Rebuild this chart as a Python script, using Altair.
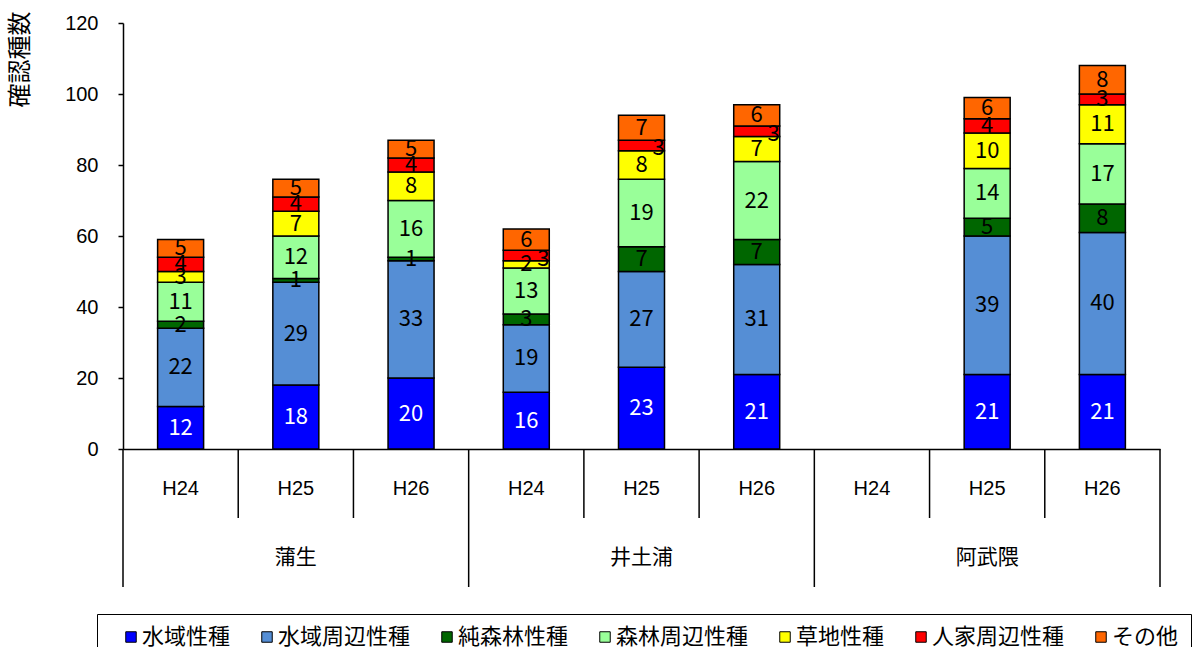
import altair as alt
import pandas as pd

# Survey sites and years (slots run 蒲生 H24..H26, 井土浦 H24..H26, 阿武隈 H24..H26)
sites = ["蒲生", "井土浦", "阿武隈"]
years = ["H24", "H25", "H26"]

categories = ["水域性種", "水域周辺性種", "純森林性種", "森林周辺性種", "草地性種", "人家周辺性種", "その他"]
colors = ["#0000FF", "#558ED5", "#006600", "#99FF99", "#FFFF00", "#FF0000", "#FF6600"]

# Species counts per category; 阿武隈 H24 has no record
suiiki = [12, 18, 20, 16, 23, 21, None, 21, 21]
suiiki_shuhen = [22, 29, 33, 19, 27, 31, None, 39, 40]
jun_shinrin = [2, 1, 1, 3, 7, 7, None, 5, 8]
shinrin_shuhen = [11, 12, 16, 13, 19, 22, None, 14, 17]
souchi = [3, 7, 8, 2, 8, 7, None, 10, 11]
jinka_shuhen = [4, 4, 4, 3, 3, 3, None, 4, 3]
sonota = [5, 5, 5, 6, 7, 6, None, 6, 8]

series = [suiiki, suiiki_shuhen, jun_shinrin, shinrin_shuhen, souchi, jinka_shuhen, sonota]

rows = []
for ci, (cat, vals) in enumerate(zip(categories, series)):
    for slot, v in enumerate(vals):
        if v is None:
            continue
        rows.append({"slot": slot, "center": slot + 0.5, "category": cat,
                     "order": ci, "value": v})
df = pd.DataFrame(rows)

slot_df = pd.DataFrame([{"center": i * 3 + j + 0.5, "year": y}
                        for i, _ in enumerate(sites) for j, y in enumerate(years)])
site_df = pd.DataFrame({"center": [i * 3 + 1.5 for i in range(len(sites))], "site": sites})
year_sep = pd.DataFrame({"center": [p for p in range(1, 9) if p % 3 != 0]})
site_sep = pd.DataFrame({"center": [0, 3, 6, 9]})

W, H = 1037, 426
JP = "Noto Sans CJK JP"

x_scale = alt.Scale(domain=[0, 9], nice=False, zero=False, padding=0)
y_scale = alt.Scale(domain=[0, 120], nice=False, padding=0)

x_axis = alt.Axis(labels=False, ticks=False, grid=False, title=None,
                  domainColor="black", domainWidth=1.5)
y_axis = alt.Axis(values=[0, 20, 40, 60, 80, 100, 120], grid=False,
                  tickSize=5, tickColor="black", tickWidth=1.5,
                  domainColor="black", domainWidth=1.5,
                  labelFont="Liberation Sans", labelFontSize=20,
                  labelColor="black", labelPadding=20,
                  title="確認種数", titleFont=JP, titleFontSize=24,
                  titleFontWeight="normal", titleColor="black",
                  titleAngle=270, titleAlign="right", titleBaseline="middle",
                  titleX=-103, titleY=-12)

X = alt.X("center:Q", scale=x_scale, axis=x_axis)

bars = alt.Chart(df).mark_bar(size=46, stroke="black", strokeWidth=1.5).encode(
    x=X,
    y=alt.Y("value:Q", stack="zero", scale=y_scale, axis=y_axis),
    color=alt.Color("category:N", scale=alt.Scale(domain=categories, range=colors),
                    legend=alt.Legend(orient="none", legendX=-26, legendY=591,
                                      direction="horizontal", columns=7, title=None,
                                      symbolType="square", symbolSize=110,
                                      symbolStrokeColor="black", symbolStrokeWidth=1,
                                      symbolOffset=11, labelOffset=0,
                                      labelFont=JP, labelFontSize=22, labelColor="black",
                                      columnPadding=14, padding=12,
                                      strokeColor="black")),
    order=alt.Order("order:Q"),
)

# Segment labels at the middle of each stacked piece
stacked = alt.Chart(df).transform_stack(
    stack="value", groupby=["slot"], as_=["y0", "y1"], sort=[alt.SortField("order")]
).transform_calculate(
    mid="(datum.y0 + datum.y1) / 2",
    nudged="datum.category == '人家周辺性種' && datum.slot >= 3 && datum.slot <= 5",
)

label_enc = dict(
    x=X,
    y=alt.Y("mid:Q", scale=y_scale, axis=y_axis),
    text="value:Q",
    color=alt.condition(alt.datum.category == "水域性種", alt.value("white"), alt.value("black")),
)

labels = stacked.transform_filter("!datum.nudged").mark_text(
    font=JP, fontSize=22, baseline="middle", align="center").encode(**label_enc)

# the thin red pieces at 井土浦 carry their labels off to the right
labels_nudged = stacked.transform_filter("datum.nudged").mark_text(
    font=JP, fontSize=22, baseline="middle", align="center", dx=17, dy=3).encode(**label_enc)

year_rules = alt.Chart(year_sep).mark_rule(color="black", strokeWidth=1.5).encode(
    x=X, y=alt.value(H), y2=alt.value(H + 69),
)
site_rules = alt.Chart(site_sep).mark_rule(color="black", strokeWidth=1.5).encode(
    x=X, y=alt.value(H), y2=alt.value(H + 138),
)
year_text = alt.Chart(slot_df).mark_text(font="Liberation Sans", fontSize=20,
                                         baseline="middle", color="black").encode(
    x=X, y=alt.value(H + 40), text="year:N",
)
site_text = alt.Chart(site_df).mark_text(font=JP, fontSize=21,
                                         baseline="middle", color="black").encode(
    x=X, y=alt.value(H + 109), text="site:N",
)

chart = alt.layer(bars, labels, labels_nudged, year_rules, site_rules,
                  year_text, site_text).properties(
    width=W, height=H,
    autosize=alt.AutoSizeParams(type="none"),
    padding={"left": 123, "top": 23, "right": 33, "bottom": 198},
).configure_view(stroke=None)

chart.save("out.html", embed_options={"renderer": "svg", "actions": False})
